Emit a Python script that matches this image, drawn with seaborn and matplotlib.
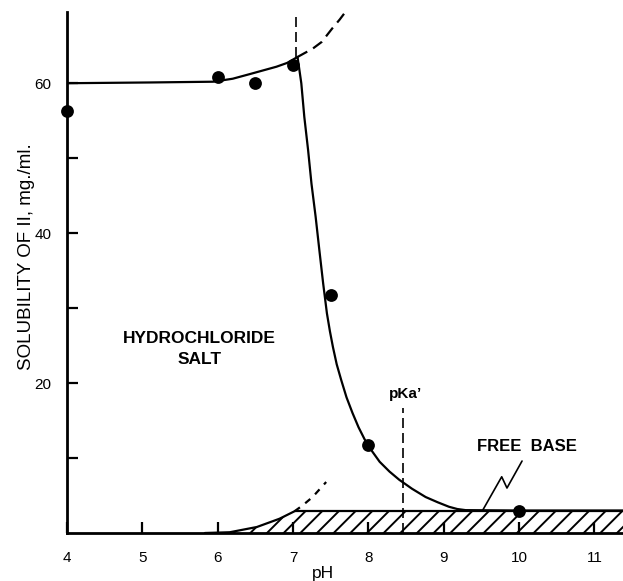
import matplotlib
matplotlib.use("Agg")
import matplotlib.pyplot as plt
import seaborn as sns

# ---- data ----
ph_meas = [4.0, 6.0, 6.5, 7.0, 7.5, 8.0, 10.0]
sol_meas = [56.3, 60.8, 60.0, 62.4, 31.7, 11.8, 2.9]

# solid solubility curve (hydrochloride salt -> free base)
salt_x = [4.0, 5.1, 5.94, 6.2, 6.42, 6.6, 6.78, 6.92, 7.06, 7.11, 7.15, 7.20, 7.245,
          7.30, 7.35, 7.40, 7.45, 7.49, 7.53, 7.58, 7.64, 7.71, 7.79, 7.87, 7.95,
          8.05, 8.15, 8.28, 8.41, 8.58, 8.76, 8.92, 9.07, 9.18, 9.29, 10.0, 11.5]
salt_y = [60.0, 60.1, 60.2, 60.6, 61.2, 61.7, 62.2, 62.7, 63.5, 60.0, 55.5, 51.1, 46.6,
          42.2, 37.7, 33.3, 29.3, 26.9, 24.8, 22.5, 20.4, 18.1, 16.0, 14.1, 12.5,
          10.9, 9.5, 8.2, 7.1, 5.9, 4.8, 4.1, 3.5, 3.2, 3.05, 3.0, 3.0]

# dashed extrapolation of the salt curve
salt_ext_x = [7.06, 7.15, 7.26, 7.38, 7.52, 7.62, 7.71]
salt_ext_y = [63.5, 64.0, 64.6, 65.5, 67.3, 68.5, 69.7]

# free-base curve (solid) and its dashed extrapolation
base_x = [5.83, 6.16, 6.52, 6.82, 7.02]
base_y = [0.0, 0.1, 0.8, 1.9, 2.9]
base_ext_x = [7.02, 7.13, 7.26, 7.44]
base_ext_y = [2.9, 3.7, 4.8, 6.8]

# hatched free-base region
hatch_x = [6.16, 6.52, 6.82, 7.02, 11.5]
hatch_y = [0.1, 0.8, 1.9, 3.0, 3.0]
band_x = [7.02, 11.5]
band_y = [3.0, 3.0]

# vertical dashed guides
pka = 8.46
pka_top = 16.7
break_x = 7.04
break_y = [63.5, 69.5]

# zig-zag leader for "FREE BASE"
zig_x = [10.04, 9.84, 9.77, 9.51]
zig_y = [9.6, 6.0, 7.5, 2.9]

x_ticks = [4, 5, 6, 7, 8, 9, 10, 11]
y_ticks = [10, 20, 30, 40, 50, 60]
y_labels = ["", "20", "", "40", "", "60"]

# ---- drawing ----
sns.set_style("ticks")
plt.rcParams["font.family"] = ["Liberation Sans", "DejaVu Sans"]
plt.rcParams["hatch.linewidth"] = 1.4
plt.rcParams["text.color"] = "black"
plt.rcParams["axes.labelcolor"] = "black"
bold_fam = ["Liberation Sans Narrow", "Liberation Sans", "DejaVu Sans"]

fig = plt.figure(figsize=(6.23, 5.81), dpi=100)
ax = fig.add_axes([67 / 623, 48 / 581, 556 / 623, 521 / 581])

lw = 1.6
ax.fill_between(hatch_x, 0, hatch_y, facecolor="none", edgecolor="black",
                hatch="//", linewidth=0)
sns.lineplot(x=band_x, y=band_y, sort=False, estimator=None, color="black", lw=lw, ax=ax)
sns.lineplot(x=salt_x, y=salt_y, sort=False, estimator=None, color="black", lw=lw, ax=ax)
sns.lineplot(x=salt_ext_x, y=salt_ext_y, sort=False, estimator=None, color="black",
             lw=lw, linestyle=(0, (5, 3)), ax=ax)
sns.lineplot(x=base_x, y=base_y, sort=False, estimator=None, color="black", lw=lw, ax=ax)
sns.lineplot(x=base_ext_x, y=base_ext_y, sort=False, estimator=None, color="black",
             lw=lw, linestyle=(0, (3, 3)), ax=ax)
sns.lineplot(x=[pka, pka], y=[0, pka_top], sort=False, estimator=None, color="black",
             lw=1.2, linestyle=(0, (6, 3)), ax=ax)
sns.lineplot(x=[break_x, break_x], y=break_y, sort=False, estimator=None, color="black",
             lw=1.2, linestyle=(0, (6, 3)), ax=ax)
sns.lineplot(x=zig_x, y=zig_y, sort=False, estimator=None, color="black", lw=1.2, ax=ax)

sns.scatterplot(x=ph_meas, y=sol_meas, color="black", s=85, linewidth=0,
                zorder=5, clip_on=False, ax=ax)

ax.set_xlim(4, 11.38)
ax.set_ylim(0, 69.5)
ax.set_xticks(x_ticks)
ax.set_xticklabels([str(t) for t in x_ticks])
ax.set_yticks(y_ticks)
ax.set_yticklabels(y_labels)
ax.tick_params(direction="in", length=8, width=1.6, labelsize=11,
               colors="black")
ax.tick_params(axis="x", pad=13)
ax.tick_params(axis="y", pad=11)

sns.despine(ax=ax)
for s in ("left", "bottom"):
    ax.spines[s].set_linewidth(2.0)
    ax.spines[s].set_color("black")

ax.set_ylabel("SOLUBILITY OF II, mg./ml.", fontsize=13.5)
ax.yaxis.set_label_coords(-0.058, 0.53)
ax.set_xlabel("pH", fontsize=12.5, va="top")
ax.xaxis.set_label_coords(0.46, -0.064)

ax.text(5.76, 24.5, "HYDROCHLORIDE\nSALT", ha="center", va="center",
        fontweight="bold", fontsize=12.5, family=bold_fam, linespacing=1.5)
ax.text(8.5, 18.6, "pKa\u2019", ha="center", va="center",
        fontweight="bold", fontsize=11, family=bold_fam)
ax.text(10.11, 11.5, "FREE  BASE", ha="center", va="center",
        fontweight="bold", fontsize=12, family=bold_fam)

fig.savefig("out.png", dpi=100)
